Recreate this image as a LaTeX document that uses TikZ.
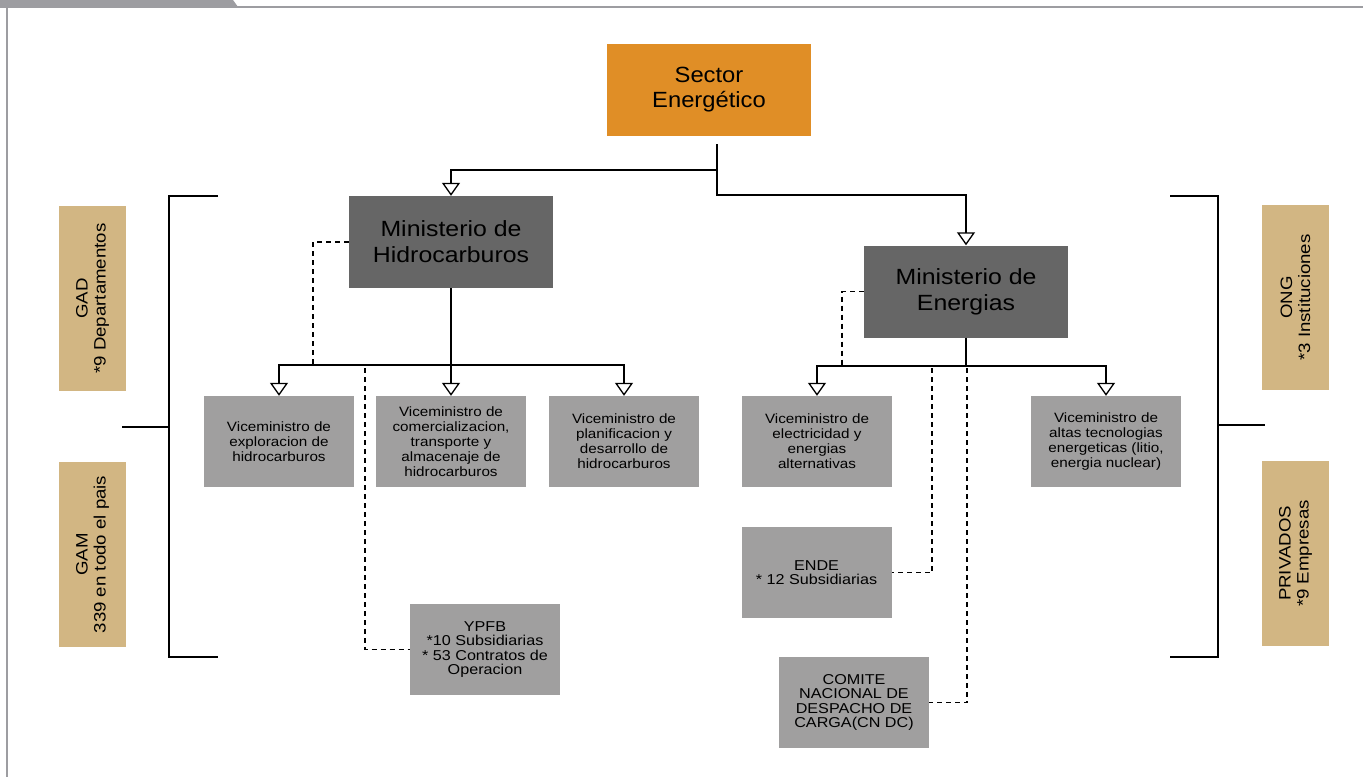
\documentclass[tikz,border=0pt]{standalone}
\usepackage{fontspec}
\setmainfont{Liberation Sans}
\newfontfamily\widesans[FakeStretch=1.13]{Liberation Sans}
\newfontfamily\headsans[FakeStretch=1.08]{Liberation Sans}
\usetikzlibrary{arrows.meta}
\definecolor{sectororange}{HTML}{E08E26}
\definecolor{ministrygray}{HTML}{666666}
\definecolor{vicegray}{HTML}{A09F9F}
\definecolor{actortan}{HTML}{D2B683}
\definecolor{framegray}{HTML}{9D9DA1}
\tikzset{%
	sector/.style   = {fill=sectororange, minimum width=204pt, minimum height=92pt,
		align=center, inner sep=0pt, font=\headsans\fontsize{22}{25}\selectfont}, % Root
	ministry/.style = {fill=ministrygray, minimum width=204pt, minimum height=92pt,
		align=center, inner sep=0pt, font=\widesans\fontsize{22}{26}\selectfont},
	vice/.style     = {fill=vicegray, minimum width=150pt, minimum height=91pt,
		align=center, inner sep=0pt, font=\widesans\fontsize{13.5}{15}\selectfont},
	entity/.style   = {vice, font=\widesans\fontsize{14.3}{14.5}\selectfont},
	actor/.style    = {fill=actortan, rotate=90, minimum width=185pt, minimum height=67pt,
		align=center, inner sep=0pt, font=\widesans\fontsize{16.5}{18}\selectfont},
	link/.style     = {line width=1.3pt, -{Triangle[open, width=18pt, length=13pt]}}, % Arrow
	plain/.style    = {line width=1.3pt}, % Line
	dlink/.style    = {line width=1.2pt, dash pattern=on 5pt off 4pt}, % Dashed
	bracket/.style  = {line width=1.4pt}
}

\begin{document}
\begin{tikzpicture}[x=1pt, y=-1pt]
	\useasboundingbox (0,0) rectangle (1363,777);
	\fill[framegray] (0,0) -- (233,0) -- (238,7) -- (0,7) -- cycle;
	\draw[framegray, line width=2pt] (0,7) -- (1363,7);
	\draw[framegray, line width=2pt] (7,7) -- (7,777);

	\node[sector]   (sector)    at (709,90)      {Sector\\Energético};
	\node[ministry] (minHid)    at (451,242)     {Ministerio de\\Hidrocarburos};
	\node[ministry] (minEne)    at (966,291.5)   {Ministerio de\\Energias};
	\node[vice]     (viceExp)   at (279,441.5)   {Viceministro de\\exploracion de\\hidrocarburos};
	\node[vice]     (viceCom)   at (451,441.5)   {Viceministro de\\comercializacion,\\transporte y\\almacenaje de\\hidrocarburos};
	\node[vice]     (vicePlan)  at (624,441.5)   {Viceministro de\\planificacion y\\desarrollo de\\hidrocarburos};
	\node[vice]     (viceElec)  at (817,441.5)   {Viceministro de\\electricidad y\\energias\\alternativas};
	\node[vice]     (viceAltas) at (1106,441.5)  {Viceministro de\\altas tecnologias\\energeticas (litio,\\energia nuclear)};
	\node[entity]   (ende)      at (816.5,572.5) {ENDE\\* 12 Subsidiarias};
	\node[entity]   (comite)    at (854,702.5)   {COMITE\\NACIONAL DE\\DESPACHO DE\\CARGA(CN DC)};
	\node[entity]   (ypfb)      at (485,649.5)   {YPFB\\*10 Subsidiarias\\* 53 Contratos de\\Operacion};
	\node[actor]    (gad)       at (92.5,298.5)  {GAD\\*9 Departamentos};
	\node[actor]    (gam)       at (92.5,554.5)  {GAM\\339 en todo el pais};
	\node[actor]    (ong)       at (1295.5,297.5) {ONG\\*3 Instituciones};
	\node[actor]    (priv)      at (1295.5,553.5) {PRIVADOS\\*9 Empresas};

	\coordinate (secDrop)    at (717,144);
	\coordinate (hidBar)     at (451,365);
	\coordinate (hidDash)    at (313,365);
	\coordinate (ypfbTop)    at (365,368);
	\coordinate (eneBar)     at (966,366);
	\coordinate (eneDash)    at (842,366);
	\coordinate (endeTop)    at (932,368);
	\coordinate (comiteTop)  at (967,368);
	\coordinate (leftTop)    at (218,196);
	\coordinate (leftBot)    at (218,657);
	\coordinate (leftMid)    at (169,427);
	\coordinate (leftStub)   at (122,427);
	\coordinate (rightTop)   at (1170,196);
	\coordinate (rightBot)   at (1170,657);
	\coordinate (rightMid)   at (1218,425);
	\coordinate (rightStub)  at (1265,425);

	\draw[link]  (secDrop) -- (717,170) -| (minHid.north);
	\draw[link]  (secDrop) -- (717,195) -| (minEne.north);
	\draw[link]  (minHid.south) -- (viceCom.north);
	\draw[link]  (hidBar)  -| (viceExp.north);
	\draw[link]  (hidBar)  -| (vicePlan.north);
	\draw[plain] (minEne.south) -- (eneBar);
	\draw[link]  (eneBar)  -| (viceElec.north);
	\draw[link]  (eneBar)  -| (viceAltas.north);
	\draw[dlink] (minHid.west) -| (hidDash);
	\draw[dlink] (ypfbTop) |- (ypfb.west);
	\draw[dlink] (minEne.west) -| (eneDash);
	\draw[dlink] (endeTop) |- (ende.east);
	\draw[dlink] (comiteTop) |- (comite.east);

	\draw[bracket] (leftTop) -- (169,196) -- (169,657) -- (leftBot);
	\draw[bracket] (leftStub) -- (leftMid);
	\draw[bracket] (rightTop) -- (1218,196) -- (1218,657) -- (rightBot);
	\draw[bracket] (rightMid) -- (rightStub);
\end{tikzpicture}
\end{document}
